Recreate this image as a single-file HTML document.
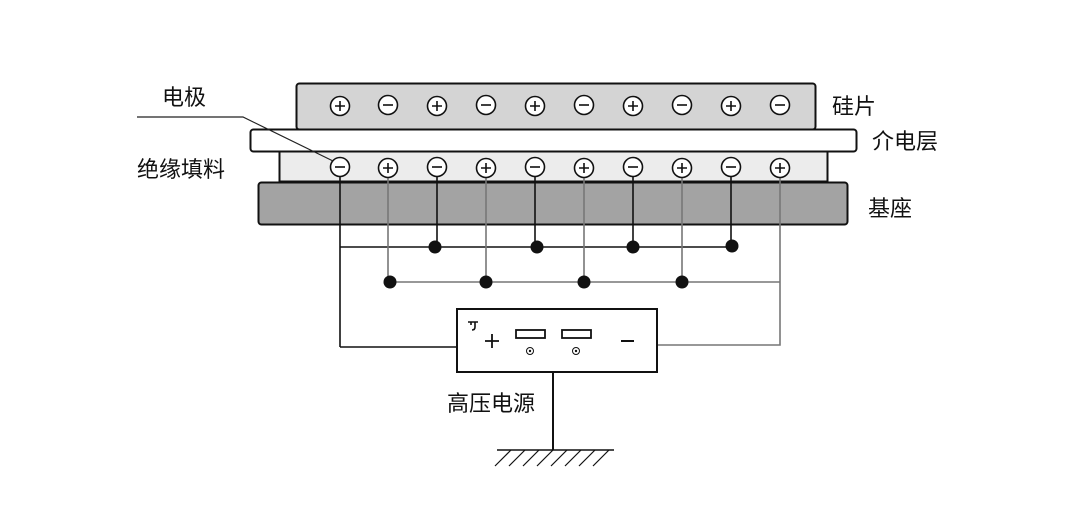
<!DOCTYPE html>
<html><head><meta charset="utf-8"><style>
html,body{margin:0;padding:0;background:#fff;}
svg{display:block}
text{font-family:"Liberation Sans","Noto Sans CJK SC",sans-serif;fill:#111}
</style></head><body>
<svg width="1080" height="510" viewBox="0 0 1080 510" xmlns="http://www.w3.org/2000/svg">
<rect x="296.5" y="83.5" width="519" height="46" rx="3" fill="#d4d4d4" stroke="#111" stroke-width="2"/>
<rect x="250.5" y="129.5" width="606" height="22" rx="3" fill="#fff" stroke="#111" stroke-width="2"/>
<rect x="279.5" y="151.5" width="548" height="30" fill="#ececec" stroke="#111" stroke-width="2"/>
<rect x="258.5" y="182.5" width="589" height="42" rx="3" fill="#a3a3a3" stroke="#111" stroke-width="2"/>

<g stroke="#111" stroke-width="1.6" fill="none">
<line x1="340" y1="177" x2="340" y2="347"/>
<line x1="437" y1="177" x2="437" y2="247"/>
<line x1="535" y1="177" x2="535" y2="247"/>
<line x1="633" y1="177" x2="633" y2="247"/>
<line x1="731" y1="177" x2="731" y2="247"/>
<line x1="340" y1="247" x2="731" y2="247"/>
<polyline points="340,347 457,347"/>
</g>
<g stroke="#777" stroke-width="1.6" fill="none">
<line x1="388" y1="177" x2="388" y2="282"/>
<line x1="486" y1="177" x2="486" y2="282"/>
<line x1="584" y1="177" x2="584" y2="282"/>
<line x1="682" y1="177" x2="682" y2="282"/>
<polyline points="780,177 780,345 657,345"/>
<line x1="388" y1="282" x2="780" y2="282"/>
</g>
<g fill="#111">
<circle cx="435" cy="247" r="6.5"/><circle cx="537" cy="247" r="6.5"/><circle cx="633" cy="247" r="6.5"/><circle cx="732" cy="246" r="6.5"/>
<circle cx="390" cy="282" r="6.5"/><circle cx="486" cy="282" r="6.5"/><circle cx="584" cy="282" r="6.5"/><circle cx="682" cy="282" r="6.5"/>
</g>

<g stroke="#111" stroke-width="1.6" fill="#fff">
<circle cx="340" cy="106" r="9.5"/><path d="M335 106h10M340 101v10"/>
<circle cx="388" cy="105" r="9.5"/><path d="M383 105h10"/>
<circle cx="437" cy="106" r="9.5"/><path d="M432 106h10M437 101v10"/>
<circle cx="486" cy="105" r="9.5"/><path d="M481 105h10"/>
<circle cx="535" cy="106" r="9.5"/><path d="M530 106h10M535 101v10"/>
<circle cx="584" cy="105" r="9.5"/><path d="M579 105h10"/>
<circle cx="633" cy="106" r="9.5"/><path d="M628 106h10M633 101v10"/>
<circle cx="682" cy="105" r="9.5"/><path d="M677 105h10"/>
<circle cx="731" cy="106" r="9.5"/><path d="M726 106h10M731 101v10"/>
<circle cx="780" cy="105" r="9.5"/><path d="M775 105h10"/>
<circle cx="340" cy="167" r="9.5"/><path d="M335 167h10"/>
<circle cx="388" cy="168" r="9.5"/><path d="M383 168h10M388 163v10"/>
<circle cx="437" cy="167" r="9.5"/><path d="M432 167h10"/>
<circle cx="486" cy="168" r="9.5"/><path d="M481 168h10M486 163v10"/>
<circle cx="535" cy="167" r="9.5"/><path d="M530 167h10"/>
<circle cx="584" cy="168" r="9.5"/><path d="M579 168h10M584 163v10"/>
<circle cx="633" cy="167" r="9.5"/><path d="M628 167h10"/>
<circle cx="682" cy="168" r="9.5"/><path d="M677 168h10M682 163v10"/>
<circle cx="731" cy="167" r="9.5"/><path d="M726 167h10"/>
<circle cx="780" cy="168" r="9.5"/><path d="M775 168h10M780 163v10"/>
</g>

<polyline points="137,117 243,117 333,161" fill="none" stroke="#222" stroke-width="1.2"/>

<rect x="457" y="309" width="200" height="63" fill="#fff" stroke="#111" stroke-width="2"/>
<path d="M468 322h10M471 322v3M475 322v5q0 3 -3 3" fill="none" stroke="#111" stroke-width="1.6"/>
<path d="M485 341h14M492 334v14" stroke="#111" stroke-width="1.8"/>
<rect x="516" y="330" width="29" height="8" fill="#fff" stroke="#111" stroke-width="1.8"/>
<rect x="562" y="330" width="29" height="8" fill="#fff" stroke="#111" stroke-width="1.8"/>
<circle cx="530" cy="351" r="3.5" fill="none" stroke="#111" stroke-width="1"/><circle cx="530" cy="351" r="1.2" fill="#111"/>
<circle cx="576" cy="351" r="3.5" fill="none" stroke="#111" stroke-width="1"/><circle cx="576" cy="351" r="1.2" fill="#111"/>
<path d="M621 341h13" stroke="#111" stroke-width="2"/>

<line x1="553" y1="372" x2="553" y2="450" stroke="#111" stroke-width="2"/>
<line x1="497" y1="450" x2="614" y2="450" stroke="#111" stroke-width="1.6"/>
<g stroke="#111" stroke-width="1.2">
<line x1="511" y1="450" x2="495" y2="466"/><line x1="525" y1="450" x2="509" y2="466"/><line x1="539" y1="450" x2="523" y2="466"/><line x1="553" y1="450" x2="537" y2="466"/><line x1="567" y1="450" x2="551" y2="466"/><line x1="581" y1="450" x2="565" y2="466"/><line x1="595" y1="450" x2="579" y2="466"/><line x1="609" y1="450" x2="593" y2="466"/>
</g>

<text x="162" y="105" font-size="22">电极</text>
<text x="137" y="177" font-size="22">绝缘填料</text>
<text x="832" y="114" font-size="22">硅片</text>
<text x="872" y="149" font-size="22">介电层</text>
<text x="868" y="216" font-size="22">基座</text>
<text x="447" y="411" font-size="22">高压电源</text>
</svg>
</body></html>
